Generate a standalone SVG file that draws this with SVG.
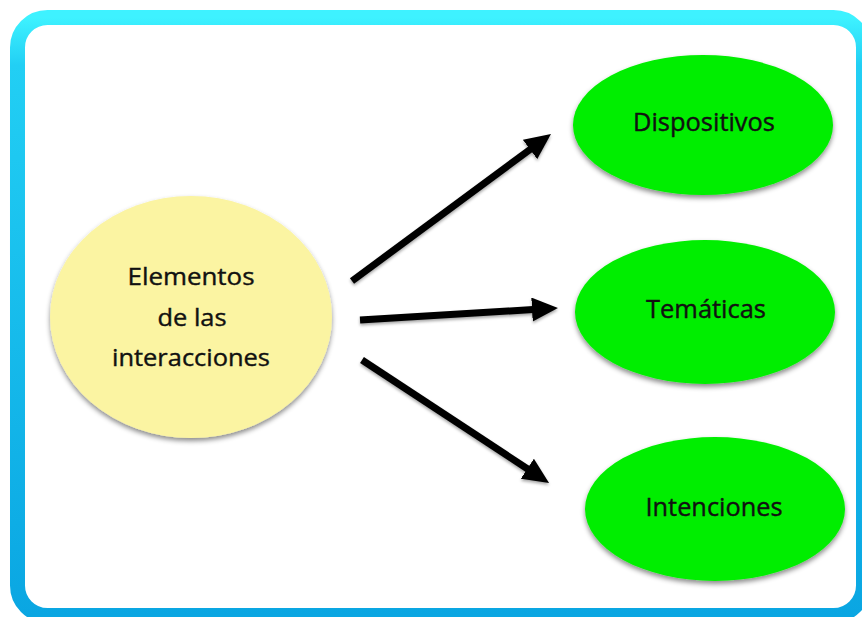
<svg xmlns="http://www.w3.org/2000/svg" width="862" height="617" viewBox="0 0 862 617">
<style>
.lbl{font-family:"Open Sans","Liberation Sans",sans-serif;fill:#111;stroke:#111;stroke-width:0.4;text-anchor:middle}
.leaf{fill:#00EE00;filter:url(#sh)}
.conn line{stroke:#000;stroke-width:7;marker-end:url(#ah)}
</style>
<defs>
<linearGradient id="fr" x1="0" y1="0" x2="0" y2="1">
<stop offset="0" stop-color="#3EF2FF"/>
<stop offset="0.08" stop-color="#22CFF4"/>
<stop offset="1" stop-color="#0AA6E2"/>
</linearGradient>
<filter id="sh" x="-10%" y="-10%" width="120%" height="125%">
<feDropShadow dx="0" dy="3" stdDeviation="2.5" flood-color="#000" flood-opacity="0.45"/>
</filter>
<filter id="sh2" filterUnits="userSpaceOnUse" x="300" y="100" width="300" height="420">
<feDropShadow dx="0" dy="2" stdDeviation="1.5" flood-color="#000" flood-opacity="0.35"/>
</filter>
<marker id="ah" markerUnits="userSpaceOnUse" viewBox="0 0 26 24" markerWidth="26" markerHeight="24" refX="5" refY="12" orient="auto">
<path d="M0,0 L26,12 L0,24 z" fill="#000"/>
</marker>
</defs>
<rect width="862" height="617" fill="#fff"/>
<g id="frame">
<rect x="17.5" y="17.5" width="846" height="598" rx="30" ry="30" fill="#fff" stroke="url(#fr)" stroke-width="15"/>
</g>
<g class="conn" id="connectors" filter="url(#sh2)">
<line x1="352" y1="281" x2="534.1" y2="146.5"/>
<line x1="360" y1="320" x2="537" y2="309.3"/>
<line x1="362" y1="360" x2="531.5" y2="471.5"/>
</g>
<g id="n-elementos">
<ellipse cx="191" cy="317" rx="141" ry="121" fill="#FBF4A2" filter="url(#sh)"/>
<text class="lbl" x="191" y="285" font-size="24" textLength="127" lengthAdjust="spacingAndGlyphs">Elementos</text>
<text class="lbl" x="192" y="326" font-size="24" textLength="69" lengthAdjust="spacingAndGlyphs">de las</text>
<text class="lbl" x="191" y="366" font-size="24" textLength="158" lengthAdjust="spacingAndGlyphs">interacciones</text>
</g>
<g id="n-dispositivos">
<ellipse class="leaf" cx="703" cy="125" rx="130" ry="70"/>
<text class="lbl" x="704" y="131" font-size="25" textLength="142" lengthAdjust="spacingAndGlyphs">Dispositivos</text>
</g>
<g id="n-tematicas">
<ellipse class="leaf" cx="705" cy="312" rx="130" ry="72"/>
<text class="lbl" x="706" y="318" font-size="25" textLength="120" lengthAdjust="spacingAndGlyphs">Temáticas</text>
</g>
<g id="n-intenciones">
<ellipse class="leaf" cx="715" cy="509" rx="130" ry="72"/>
<text class="lbl" x="714" y="516" font-size="25" textLength="137" lengthAdjust="spacingAndGlyphs">Intenciones</text>
</g>
</svg>
